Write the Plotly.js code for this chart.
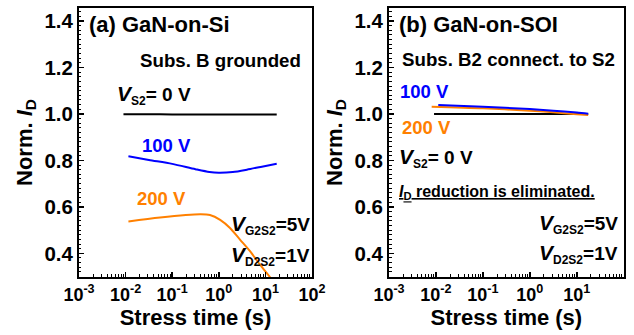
<!DOCTYPE html>
<html>
<head>
<meta charset="utf-8">
<script src="https://cdn.plot.ly/plotly-3.0.1.min.js"></script>
<style>html,body{margin:0;padding:0;background:#fff;}#chart{width:634px;height:335px;}</style>
</head>
<body>
<div id="chart"></div>
<script>
// ---- Data (stress time in s, normalized I_D) ----
// (a) GaN-on-Si, substrate grounded
var siT_0V   = [0.009, 0.03, 0.1, 0.3, 1, 3, 10, 17.5];
var siI_0V   = [0.999, 0.999, 0.998, 0.998, 0.998, 0.998, 0.998, 0.998];
var siT_100V = [0.0115, 0.0316, 0.1, 0.316, 0.631, 1.0, 2.0, 4.0, 7.9, 17.5];
var siI_100V = [0.818, 0.802, 0.785, 0.762, 0.750, 0.747, 0.750, 0.760, 0.772, 0.786];
var siT_200V = [0.0115, 0.055, 0.398, 0.646, 1.07, 1.74, 2.85, 4.68, 7.59, 12.6, 17.5];
var siI_200V = [0.537, 0.554, 0.568, 0.565, 0.544, 0.509, 0.459, 0.409, 0.352, 0.297, 0.25];
// (b) GaN-on-SOI, substrate B2 connected to S2
var soiT_0V   = [0.0091, 0.03, 0.1, 0.3, 1, 3, 10, 17.5];
var soiI_0V   = [1.0, 1.0, 1.0, 1.0, 1.0, 1.0, 1.0, 1.0];
var soiT_100V = [0.0112, 0.1, 1.0, 3.16, 10, 17.5];
var soiI_100V = [1.038, 1.031, 1.021, 1.014, 1.006, 1.001];
var soiT_200V = [0.0081, 0.1, 1.0, 3.16, 10, 17.5];
var soiI_200V = [1.031, 1.024, 1.014, 1.007, 0.999, 0.995];

var xTickVals  = [0.001, 0.01, 0.1, 1, 10, 100];
var xTickText  = ['10<sup>-3</sup>', '10<sup>-2</sup>', '10<sup>-1</sup>', '10<sup>0</sup>', '10<sup>1</sup>', '10<sup>2</sup>'];
var yTickVals  = [0.4, 0.6, 0.8, 1.0, 1.2, 1.4];
var yTickText  = ['0.4', '0.6', '0.8', '1.0', '1.2', '1.4'];

var BLACK = '#000000', BLUE = '#0000FF', ORANGE = '#FF8000';
var FONT = 'Liberation Sans, Arial, sans-serif';

function line(x, y, color, xa, ya) {
  return {x: x, y: y, type: 'scatter', mode: 'lines', xaxis: xa, yaxis: ya,
          line: {color: color, width: 2, shape: 'spline', smoothing: 0.8},
          hoverinfo: 'skip', showlegend: false};
}

var data = [
  line(siT_0V, siI_0V, BLACK, 'x', 'y'),
  line(siT_100V, siI_100V, BLUE, 'x', 'y'),
  line(siT_200V, siI_200V, ORANGE, 'x', 'y'),
  line(soiT_0V, soiI_0V, BLACK, 'x2', 'y2'),
  line(soiT_200V, soiI_200V, ORANGE, 'x2', 'y2'),
  line(soiT_100V, soiI_100V, BLUE, 'x2', 'y2')
];

function xAxis(domain, anchor) {
  return {
    type: 'log', range: [-3, 2], domain: domain, anchor: anchor,
    showline: true, linecolor: '#000', linewidth: 2, mirror: true,
    showgrid: false, zeroline: false,
    ticks: 'inside', ticklen: 5, tickwidth: 1.5, tickcolor: '#000',
    tickvals: xTickVals, ticktext: xTickText,
    tickfont: {family: FONT, size: 18, color: '#000', weight: 'bold'},
    minor: {ticks: 'inside', ticklen: 3, tickwidth: 1, tickcolor: '#000', dtick: 'D1', showgrid: false},
    title: {text: 'Stress time (s)', font: {family: FONT, size: 22, color: '#000', weight: 'bold'}, standoff: 3},
    automargin: false, fixedrange: true
  };
}
function yAxis(domain, anchor) {
  return {
    range: [0.298, 1.456], domain: domain, anchor: anchor,
    showline: true, linecolor: '#000', linewidth: 2, mirror: true,
    showgrid: false, zeroline: false,
    ticks: 'inside', ticklen: 5, tickwidth: 1.5, tickcolor: '#000',
    tickvals: yTickVals, ticktext: yTickText,
    tickfont: {family: FONT, size: 20.5, color: '#000', weight: 'bold'},
    minor: {ticks: 'inside', ticklen: 2.5, tickwidth: 1, tickcolor: '#000', dtick: 0.02, showgrid: false},
    title: {text: 'Norm. <i>I</i><sub>D</sub>', font: {family: FONT, size: 22, color: '#000', weight: 'bold'}, standoff: 6},
    automargin: false, fixedrange: true
  };
}

function ann(text, x, y, xa, ya, xanchor, size, color) {
  return {text: text, x: x, y: y, xref: xa, yref: ya, xanchor: xanchor, yanchor: 'middle',
          showarrow: false, font: {family: FONT, size: size, color: color || '#000', weight: 'bold'}};
}
function sub(s) { return '<sub><span style="font-size:12px">' + s + '</span></sub>'; }
var VS2 = '<i><span style="font-size:21px">V</span></i>' + sub('S2') + '= 0 V';
var VG = '<i><span style="font-size:21px">V</span></i>' + sub('G2S2') + '=5V';
var VD = '<i><span style="font-size:21px">V</span></i>' + sub('D2S2') + '=1V';

var annotations = [
  ann('(a) GaN-on-Si', -2.83, 1.386, 'x', 'y', 'left', 22),
  ann('Subs. B grounded', 1.807, 1.232, 'x', 'y', 'right', 18.7),
  ann(VS2, -2.23, 1.08, 'x', 'y', 'left', 19),
  ann('100 V', -1.69, 0.865, 'x', 'y', 'left', 18.5, BLUE),
  ann('200 V', -1.80, 0.638, 'x', 'y', 'left', 18.5, ORANGE),
  ann(VG, 1.99, 0.522, 'x', 'y', 'right', 19),
  ann(VD, 1.99, 0.39, 'x', 'y', 'right', 19),
  ann('(b) GaN-on-SOI', -2.83, 1.386, 'x2', 'y2', 'left', 22),
  ann('Subs. B2 connect. to S2', 1.857, 1.236, 'x2', 'y2', 'right', 18.7),
  ann('100 V', -2.81, 1.095, 'x2', 'y2', 'left', 18.5, BLUE),
  ann('200 V', -2.77, 0.941, 'x2', 'y2', 'left', 18.5, ORANGE),
  ann(VS2, -2.83, 0.81, 'x2', 'y2', 'left', 19),
  ann('<u><i>I</i><sub>D</sub> reduction is eliminated.</u>', -2.83, 0.66, 'x2', 'y2', 'left', 16),
  ann(VG, 1.93, 0.527, 'x2', 'y2', 'right', 19),
  ann(VD, 1.93, 0.395, 'x2', 'y2', 'right', 19)
];

var layout = {
  width: 634, height: 335,
  margin: {l: 0, r: 0, t: 0, b: 0},
  paper_bgcolor: '#fff', plot_bgcolor: '#fff',
  font: {family: FONT, color: '#000'},
  showlegend: false,
  xaxis: xAxis([0.1246, 0.4921], 'y'),
  yaxis: yAxis([0.1731, 0.9761], 'x'),
  xaxis2: xAxis([0.6136, 0.9838], 'y2'),
  yaxis2: yAxis([0.1731, 0.9761], 'x2'),
  annotations: annotations
};

Plotly.newPlot('chart', data, layout, {displayModeBar: false, staticPlot: true});
</script>
</body>
</html>
